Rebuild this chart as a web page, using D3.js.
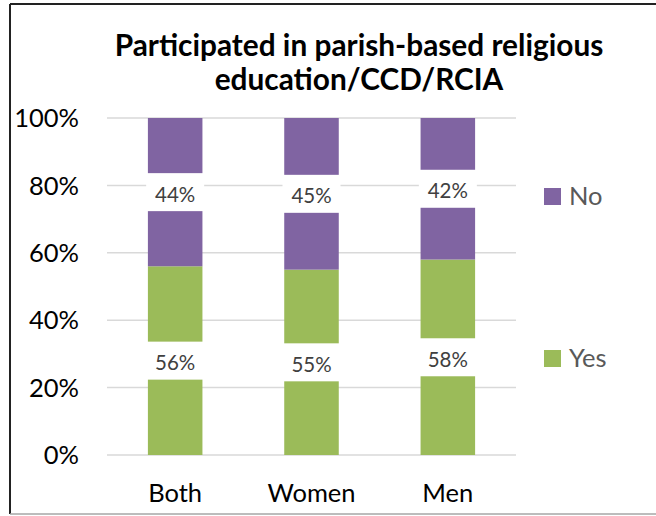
<!DOCTYPE html>
<html><head><meta charset="utf-8">
<script src="https://cdn.jsdelivr.net/npm/d3@7"></script>
<style>html,body{margin:0;padding:0;background:#fff;}svg{display:block;}</style>
</head><body>
<script>
const categories = ["Both", "Women", "Men"];
const yesValues = [56, 55, 58];
const noValues = [44, 45, 42];
const seriesNames = ["Yes", "No"];
const tickValues = [0, 20, 40, 60, 80, 100];
const titleLines = ["Participated in parish-based religious", "education/CCD/RCIA"];

const W = 656, H = 516;
const FONT = "Lato, 'Open Sans', sans-serif";
const colors = {Yes: "#9BBB59", No: "#8064A2"};

const svg = d3.select("body").append("svg").attr("width", W).attr("height", H);
svg.append("rect").attr("width", W).attr("height", H).attr("fill", "#fff");

// frame
svg.append("line").attr("x1", 10).attr("x2", W).attr("y1", 4).attr("y2", 4).attr("stroke", "#222").attr("stroke-width", 2);
svg.append("line").attr("x1", 10).attr("x2", 10).attr("y1", 4).attr("y2", 514).attr("stroke", "#222").attr("stroke-width", 2);
svg.append("line").attr("x1", 10).attr("x2", W).attr("y1", 514).attr("y2", 514).attr("stroke", "#a6a6a6").attr("stroke-width", 1.5);

const x = d3.scaleBand().domain(categories).range([107, 516]).padding(0);
const y = d3.scaleLinear().domain([0, 100]).range([455, 118]);
const barW = x.bandwidth() * 0.4;

// gridlines
svg.append("g").selectAll("line").data(tickValues).join("line")
  .attr("x1", 107).attr("x2", 516)
  .attr("y1", d => y(d)).attr("y2", d => y(d))
  .attr("stroke", "#d9d9d9").attr("stroke-width", 1.5);

// y tick labels
svg.append("g").selectAll("text").data(tickValues).join("text")
  .attr("x", 79).attr("y", d => y(d)).attr("dy", "0.36em")
  .attr("text-anchor", "end").attr("font-family", FONT).attr("font-size", 25.5)
  .attr("fill", "#000").text(d => d + "%");

// stacked data
const rows = categories.map((c, i) => ({cat: c, Yes: yesValues[i], No: noValues[i]}));
const stack = d3.stack().keys(seriesNames)(rows);

const gBars = svg.append("g");
stack.forEach(layer => {
  gBars.selectAll(null).data(layer).join("rect")
    .attr("x", d => x(d.data.cat) + (x.bandwidth() - barW) / 2)
    .attr("width", barW)
    .attr("y", d => y(d[1]))
    .attr("height", d => y(d[0]) - y(d[1]))
    .attr("fill", colors[layer.key]);
});

// data labels with white boxes
const gLab = svg.append("g");
stack.forEach(layer => {
  layer.forEach(d => {
    const cx = x(d.data.cat) + x.bandwidth() / 2;
    const cy = y((d[0] + d[1]) / 2);
    gLab.append("rect").attr("x", cx - 29).attr("y", cy - 19).attr("width", 58).attr("height", 38).attr("fill", "#fff");
    gLab.append("text").attr("x", cx).attr("y", cy + 2).attr("dy", "0.36em")
      .attr("text-anchor", "middle").attr("font-family", FONT).attr("font-size", 20.5)
      .attr("fill", "#404040").text(d.data[layer.key] + "%");
  });
});

// x labels
svg.append("g").selectAll("text").data(categories).join("text")
  .attr("x", d => x(d) + x.bandwidth() / 2).attr("y", 502)
  .attr("text-anchor", "middle").attr("font-family", FONT).attr("font-size", 25.5)
  .attr("fill", "#000").text(d => d);

// title
svg.append("g").selectAll("text").data(titleLines).join("text")
  .attr("x", 359).attr("y", (d, i) => 56 + i * 34)
  .attr("text-anchor", "middle").attr("font-family", FONT).attr("font-weight", "bold")
  .attr("font-size", 29.8).attr("fill", "#000").text(d => d);

// legend
const legendItems = [{name: "No", y: 196}, {name: "Yes", y: 358}];
const lg = svg.append("g");
lg.selectAll("rect").data(legendItems).join("rect")
  .attr("x", 544).attr("y", d => d.y - 8).attr("width", 17).attr("height", 17)
  .attr("fill", d => colors[d.name]);
lg.selectAll("text").data(legendItems).join("text")
  .attr("x", 569).attr("y", d => d.y).attr("dy", "0.36em")
  .attr("font-family", FONT).attr("font-size", 25.5).attr("fill", "#595959").text(d => d.name);
</script>
</body></html>
